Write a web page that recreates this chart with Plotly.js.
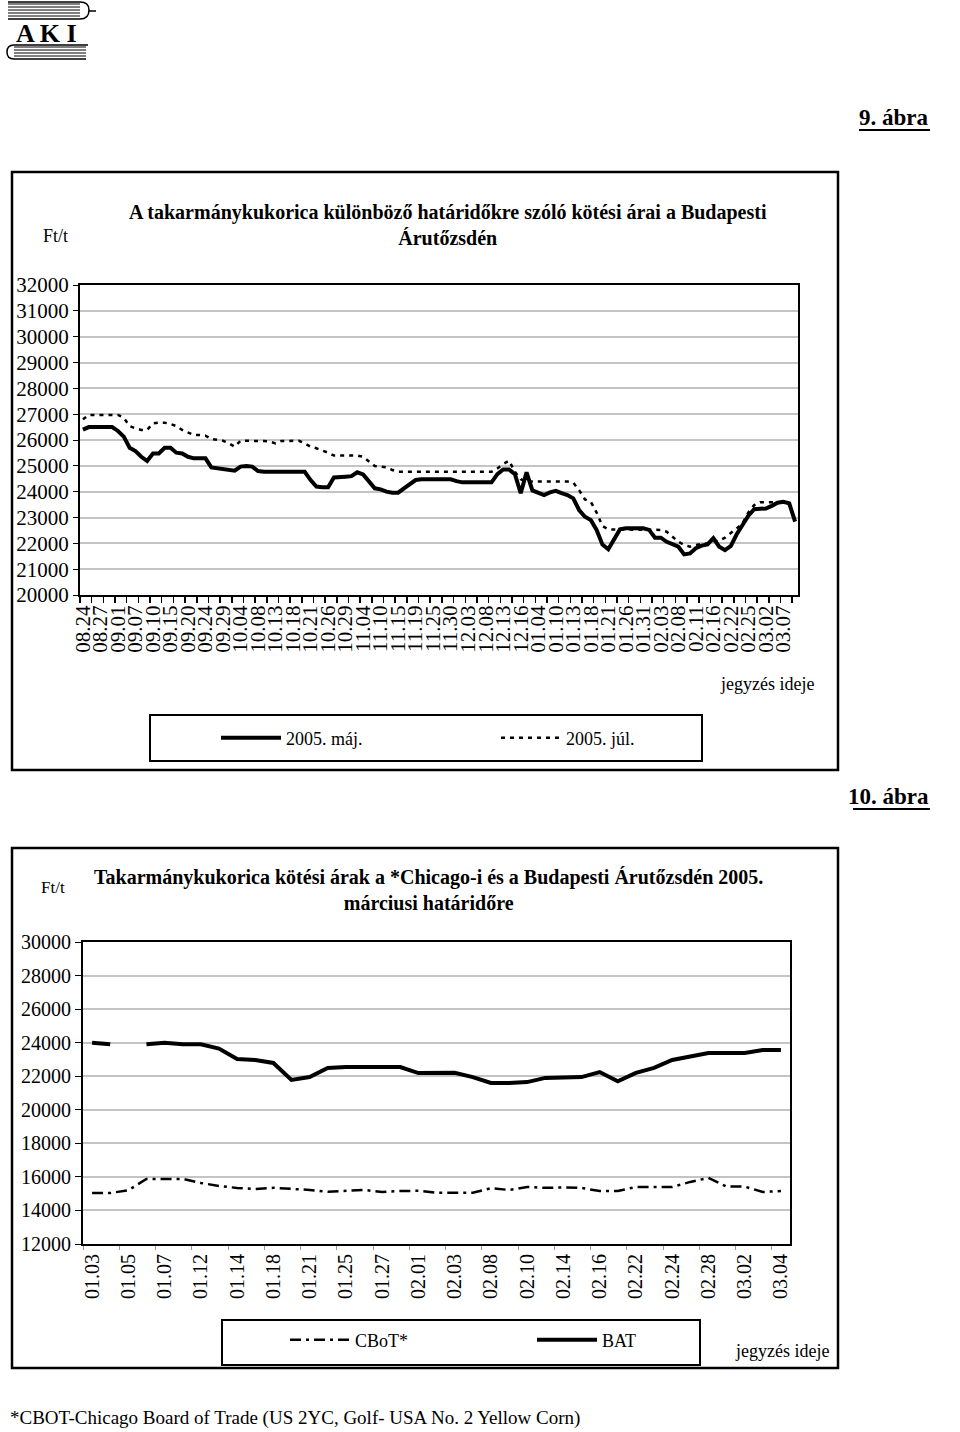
<!DOCTYPE html>
<html>
<head>
<meta charset="utf-8">
<script src="https://cdn.plot.ly/plotly-3.0.1.min.js"></script>
<style>
html,body{margin:0;padding:0;background:#fff;}
#chart{width:960px;height:1432px;}
</style>
</head>
<body>
<div id="chart"></div>
<script>
// ---------- Chart 1 (9. ábra) ----------
const labels1 = ["08.24","08.27","09.01","09.07","09.10","09.15","09.20","09.24","09.29","10.04","10.08","10.13","10.18","10.21","10.26","10.29","11.04","11.10","11.15","11.19","11.25","11.30","12.03","12.08","12.13","12.16","01.04","01.10","01.13","01.18","01.21","01.26","01.31","02.03","02.08","02.11","02.16","02.22","02.25","03.02","03.07"];
const may2005 = [
 26400,26500,26500,26500,26500,26500,26350,26130,25700,25570,
 25350,25190,25480,25480,25700,25700,25510,25480,25350,25290,
 25290,25290,24940,24900,24880,24850,24810,24970,24990,24970,
 24800,24770,24770,24770,24770,24770,24770,24770,24770,24450,
 24200,24170,24170,24550,24580,24580,24600,24750,24670,24390,
 24130,24090,24000,23960,23960,24130,24280,24450,24480,24480,
 24480,24480,24480,24480,24410,24360,24360,24360,24360,24360,
 24360,24680,24860,24860,24680,23940,24750,24050,23940,23870,
 23970,24030,23940,23870,23740,23290,23030,22900,22520,21950,
 21770,22150,22540,22580,22580,22580,22580,22520,22220,22220,
 22060,21970,21870,21570,21610,21810,21910,21960,22200,21870,
 21740,21900,22350,22710,23070,23320,23350,23350,23450,23570,
 23610,23550,22840
];
const jul2005 = [
 26800,26970,26970,26970,26970,26970,26970,26860,26540,26450,
 26390,26390,26650,26670,26670,26620,26540,26390,26280,26190,
 26190,26170,26040,26000,25970,25870,25740,25970,25970,25970,
 25970,25960,25940,25870,25960,25970,25970,25970,25870,25740,
 25680,25610,25510,25400,25400,25400,25400,25400,25350,25160,
 24990,24970,24940,24840,24770,24770,24770,24770,24770,24770,
 24770,24770,24770,24770,24770,24770,24770,24770,24770,24770,
 24770,24900,25070,25200,24770,24480,24390,24390,24390,24390,
 24390,24390,24390,24390,24350,24060,23700,23610,23190,22670,
 22540,22540,22540,22540,22540,22540,22540,22540,22520,22520,
 22450,22260,22060,21940,21870,21940,21960,22000,22060,22100,
 22220,22390,22580,22770,23200,23480,23590,23590,23590,23590,
 23610,23590,null
];
const labelStep1 = 3;

// ---------- Chart 2 (10. ábra) ----------
const labels2 = ["01.03","01.05","01.07","01.12","01.14","01.18","01.21","01.25","01.27","02.01","02.03","02.08","02.10","02.14","02.16","02.22","02.24","02.28","03.02","03.04"];
const cbot = [
 15040,15040,15200,15880,15880,15880,15640,15460,15340,15280,
 15350,15290,15220,15110,15160,15220,15100,15160,15170,15050,
 15050,15050,15330,15220,15400,15350,15370,15340,15160,15160,
 15400,15400,15400,15700,15940,15420,15420,15100,15160
];
const bat = [
 24000,23900,null,23900,24000,23900,23900,23650,23030,22970,
 22790,21780,21950,22490,22550,22550,22550,22550,22190,22190,
 22200,21950,21600,21600,21650,21900,21950,21950,22250,21700,
 22200,22500,22970,23150,23380,23380,23380,23560,23560
];
const labelStep2 = 2;

// ---------- helpers ----------
const W = 960, H = 1432;
const px = x => x / W;
const py = y => 1 - y / H;
const FONT = "Liberation Serif, 'Times New Roman', serif";
const idx = arr => arr.map((_, i) => i);

const traces = [
  {x: idx(may2005), y: may2005, name: "2005. máj.", type: "scatter", mode: "lines",
   line: {color: "#000", width: 4}, xaxis: "x", yaxis: "y", legend: "legend"},
  {x: idx(jul2005), y: jul2005, name: "2005. júl.", type: "scatter", mode: "lines",
   line: {color: "#000", width: 2.5, dash: "4px,5px"}, xaxis: "x", yaxis: "y", legend: "legend"},
  {x: idx(cbot), y: cbot, name: "CBoT*", type: "scatter", mode: "lines",
   line: {color: "#000", width: 2.5, dash: "11px,5px,3px,5px"}, xaxis: "x2", yaxis: "y2", legend: "legend2"},
  {x: idx(bat), y: bat, name: "BAT", type: "scatter", mode: "lines", connectgaps: false,
   line: {color: "#000", width: 4}, xaxis: "x2", yaxis: "y2", legend: "legend2"}
];

const gridCol = "#c4c4c4";
const tickFontBig = {family: FONT, size: 21, color: "#000"};

const layout = {
  width: W, height: H,
  margin: {l: 0, r: 0, t: 0, b: 0},
  paper_bgcolor: "#fff", plot_bgcolor: "#fff",
  font: {family: FONT, color: "#000"},
  showlegend: true,
  xaxis: {
    domain: [px(80), px(798)], anchor: "y",
    range: [-0.5, may2005.length - 0.5],
    tickmode: "array",
    tickvals: labels1.map((_, i) => i * labelStep1),
    ticktext: labels1,
    tickangle: -90, tickfont: {family: FONT, size: 21, color: "#000"},
    ticks: "", showgrid: false, zeroline: false,
    showline: true, mirror: true, linecolor: "#000", linewidth: 2,
    minor: {ticks: "outside", tick0: -0.5, dtick: 2, ticklen: 6, tickwidth: 1.5, tickcolor: "#000", showgrid: false}
  },
  yaxis: {
    domain: [py(595), py(285)], anchor: "x",
    range: [20000, 32000], dtick: 1000, tickformat: "d",
    tickfont: tickFontBig, ticks: "outside", ticklen: 5, tickcolor: "#000",
    showgrid: true, gridcolor: gridCol, gridwidth: 2, zeroline: false,
    showline: true, mirror: true, linecolor: "#000", linewidth: 2
  },
  xaxis2: {
    domain: [px(83), px(790)], anchor: "y2",
    range: [-0.5, bat.length - 0.5],
    tickmode: "array",
    tickvals: labels2.map((_, i) => i * labelStep2),
    ticktext: labels2,
    tickangle: -90, tickfont: {family: FONT, size: 20, color: "#000"},
    ticks: "", showgrid: false, zeroline: false,
    showline: true, mirror: true, linecolor: "#000", linewidth: 2,
    minor: {ticks: "outside", tick0: -0.5, dtick: 2, ticklen: 4, tickwidth: 1, tickcolor: "#999", showgrid: false}
  },
  yaxis2: {
    domain: [py(1244), py(942)], anchor: "x2",
    range: [12000, 30000], dtick: 2000, tickformat: "d",
    tickfont: {family: FONT, size: 20, color: "#000"}, ticks: "outside", ticklen: 6, tickcolor: "#000",
    showgrid: true, gridcolor: gridCol, gridwidth: 2, zeroline: false,
    showline: true, mirror: true, linecolor: "#000", linewidth: 2
  },
  legend: {
    orientation: "h", x: px(216), xanchor: "left", y: py(738), yanchor: "middle",
    font: {family: FONT, size: 18, color: "#000"}, bgcolor: "rgba(0,0,0,0)",
    entrywidth: 205, entrywidthmode: "pixels", itemwidth: 60, traceorder: "normal"
  },
  legend2: {
    orientation: "h", x: px(285), xanchor: "left", y: py(1340), yanchor: "middle",
    font: {family: FONT, size: 18, color: "#000"}, bgcolor: "rgba(0,0,0,0)",
    entrywidth: 172, entrywidthmode: "pixels", itemwidth: 60, traceorder: "normal"
  },
  shapes: [],
  annotations: []
};

const rect = (x0, y0, x1, y1, w) => ({type: "rect", xref: "paper", yref: "paper",
  x0: px(x0), y0: py(y0), x1: px(x1), y1: py(y1), line: {color: "#000", width: w}, fillcolor: "rgba(0,0,0,0)", layer: "below"});
const seg = (x0, y0, x1, y1, w) => ({type: "line", xref: "paper", yref: "paper",
  x0: px(x0), y0: py(y0), x1: px(x1), y1: py(y1), line: {color: "#000", width: w}});
const txt = (x, y, text, size, xanchor, bold) => ({xref: "paper", yref: "paper", x: px(x), y: py(y),
  text: bold ? "<b>" + text + "</b>" : text, showarrow: false, xanchor: xanchor || "center", yanchor: "middle",
  font: {family: FONT, size: size, color: "#000"}, align: "center"});

// frames
layout.shapes.push(rect(12, 172, 838, 770, 2.5));
layout.shapes.push(rect(150, 715, 702, 761, 2));
layout.shapes.push(rect(12, 848, 838, 1368, 2.5));
layout.shapes.push(rect(222, 1320, 700, 1365, 2));
// underlines of figure numbers
layout.shapes.push(seg(859, 130, 930, 130, 2));
layout.shapes.push(seg(853, 809, 930, 809, 2));

// logo (decorative)
[4, 7, 10, 13, 16].forEach(y => layout.shapes.push(seg(8, y, 80, y, 1)));
layout.shapes.push({type: "path", xref: "paper", yref: "paper",
  path: `M ${px(8)} ${py(2)} L ${px(80)} ${py(2)} Q ${px(89)} ${py(2)} ${px(89)} ${py(10)} Q ${px(89)} ${py(19)} ${px(80)} ${py(19)} L ${px(8)} ${py(19)}`,
  line: {color: "#000", width: 1.5}});
layout.shapes.push(seg(89, 11, 96, 11, 1.5));
[47, 50, 53, 56].forEach(y => layout.shapes.push(seg(14, y, 86, y, 1)));
layout.shapes.push({type: "path", xref: "paper", yref: "paper",
  path: `M ${px(88)} ${py(45)} L ${px(14)} ${py(45)} Q ${px(7)} ${py(45)} ${px(7)} ${py(52)} Q ${px(7)} ${py(59)} ${px(14)} ${py(59)} L ${px(86)} ${py(59)}`,
  line: {color: "#000", width: 1.5}});

// texts
layout.annotations.push(txt(46, 34, "A K I", 26, "center", true));
layout.annotations.push(txt(931, 118, "9. ábra", 23, "right", true));
layout.annotations.push(txt(448, 225, "A takarmánykukorica különböző határidőkre szóló kötési árai a Budapesti<br>Árutőzsdén", 20, "center", true));
layout.annotations.push(txt(55, 236, "Ft/t", 18, "center", false));
layout.annotations.push(txt(816, 684, "jegyzés ideje", 18, "right", false));
layout.annotations.push(txt(931, 797, "10. ábra", 23, "right", true));
layout.annotations.push(txt(428, 890, "Takarmánykukorica kötési árak a *Chicago-i és a Budapesti Árutőzsdén 2005.<br>márciusi határidőre", 20, "center", true));
layout.annotations.push(txt(53, 888, "Ft/t", 17, "center", false));
layout.annotations.push(txt(831, 1351, "jegyzés ideje", 18, "right", false));
layout.annotations.push(txt(8, 1418, "*CBOT-Chicago Board of Trade (US 2YC, Golf- USA No. 2 Yellow Corn)", 19, "left", false));

Plotly.newPlot("chart", traces, layout, {staticPlot: true, displayModeBar: false});
</script>
</body>
</html>
